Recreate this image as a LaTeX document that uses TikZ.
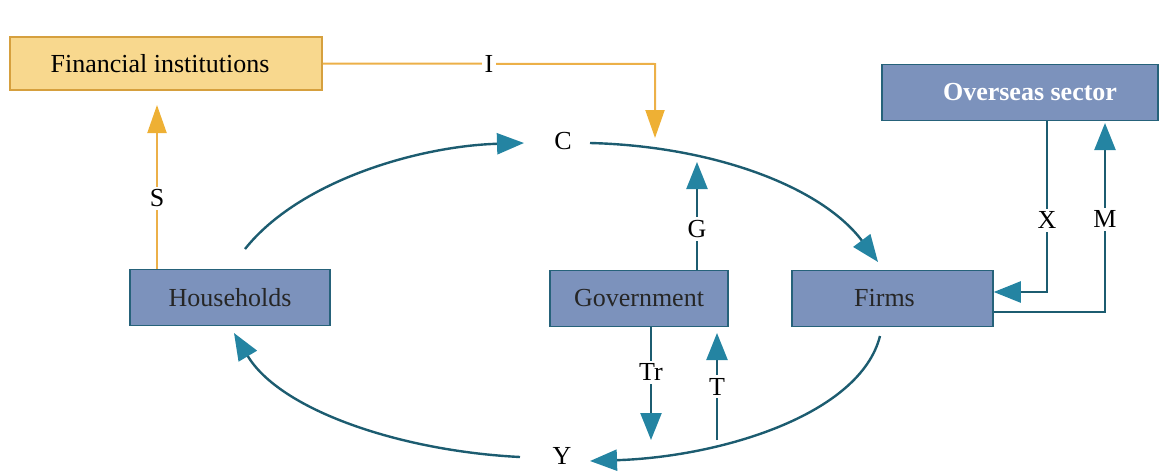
\documentclass[tikz,border=0pt]{standalone}
\usepackage{fontspec}
\setmainfont{LiberationSerif}[Extension=.ttf, UprightFont=*-Regular, BoldFont=*-Bold, ItalicFont=*-Italic, BoldItalicFont=*-BoldItalic]
\usetikzlibrary{arrows.meta}
\definecolor{boxblue}{RGB}{124,146,188}
\definecolor{boxedge}{RGB}{38,98,122}
\definecolor{tealline}{RGB}{28,92,112}
\definecolor{tealhead}{RGB}{36,132,162}
\definecolor{orgline}{RGB}{236,176,72}
\definecolor{orghead}{RGB}{238,176,52}
\definecolor{finfill}{RGB}{248,216,142}
\definecolor{finedge}{RGB}{214,160,62}
\tikzset{
  bluebox/.style={draw=boxedge, line width=1.5pt, fill=boxblue, minimum height=56pt, inner sep=0pt,
    font=\fontsize{26}{30}\selectfont, text=black!85},
  finbox/.style={draw=finedge, line width=1.5pt, fill=finfill, minimum height=53pt, minimum width=312pt, inner sep=0pt,
    font=\fontsize{26}{30}\selectfont},
  lbl/.style={fill=white, inner sep=3pt, font=\fontsize{26}{30}\selectfont},
  flow/.style={draw=tealline, line width=2.4pt, -{Triangle[length=27pt,width=21pt,fill=tealhead,color=tealhead]}},
  oflow/.style={draw=orgline, line width=2pt, -{Triangle[length=28pt,width=19pt,fill=orghead,color=orghead]}},
}
\begin{document}
\begin{tikzpicture}[x=1pt,y=-1pt]
\useasboundingbox (0,0) rectangle (1166,471);
% boxes
\node[finbox] (fin) at (166,63.5) {\hspace*{-12pt}Financial institutions};
\node[bluebox, minimum width=276pt, text=white, font=\fontsize{26}{30}\selectfont\bfseries] (over) at (1020,92.5) {\hspace*{20pt}Overseas sector};
\node[bluebox, minimum width=200pt] (hh) at (230,297.5) {Households};
\node[bluebox, minimum width=178pt] (gov) at (639,298.5) {Government};
\node[bluebox, minimum width=201pt] (firms) at (892.5,298.5) {\hspace*{-16pt}Firms};
% flow labels on the circle
\node[font=\fontsize{26}{30}\selectfont, inner sep=0pt] (Cl) at (563,141) {C};
\node[font=\fontsize{26}{30}\selectfont, inner sep=0pt] (Yl) at (562,456) {Y};
% coordinates
\coordinate (hhtop) at (245,249);
\coordinate (cin) at (524,143);
\coordinate (cout) at (590,143);
\coordinate (firmin) at (878,262);
\coordinate (firmout) at (880,336);
\coordinate (yin) at (590,461);
\coordinate (yout) at (520,457);
\coordinate (hhin) at (234,333);
\coordinate (gtop) at (697,162);
\coordinate (trend) at (651,440);
\coordinate (tstart) at (717,440);
\coordinate (ttop) at (717,333);
\coordinate (stop) at (157,105);
\coordinate (icor) at (655,64);
\coordinate (iend) at (655,138);
\coordinate (xcor) at (1047,292);
\coordinate (mcor) at (1105,312);
\coordinate (mtop) at (1105,123);
% circular flow
\draw[flow] (hhtop) .. controls (300,180) and (420,146) .. (cin);
\draw[flow] (cout) .. controls (710,146) and (820,185) .. (firmin);
\draw[flow] (firmout) .. controls (860,415) and (720,457) .. (yin);
\draw[flow] (yout) .. controls (400,451) and (280,410) .. (hhin);
% government
\draw[flow] (gov.north -| gtop) -- node[lbl, pos=0.38]{G} (gtop);
\draw[flow] (gov.south -| trend) -- node[lbl, pos=0.4]{Tr} (trend);
\draw[flow] (tstart) -- node[lbl, pos=0.5]{T} (ttop);
% overseas
\draw[flow] (over.south -| xcor) -- node[lbl, pos=0.58]{X} (xcor) -- (firms.east |- xcor);
\draw[flow] (firms.east |- mcor) -- (mcor) -- node[lbl, pos=0.49]{M} (mtop);
% financial
\draw[oflow] (hh.north -| stop) -- node[lbl, pos=0.43]{S} (stop);
\draw[oflow] (fin.east) -- node[lbl, pos=0.5]{I} (icor) -- (iend);
\end{tikzpicture}
\end{document}
